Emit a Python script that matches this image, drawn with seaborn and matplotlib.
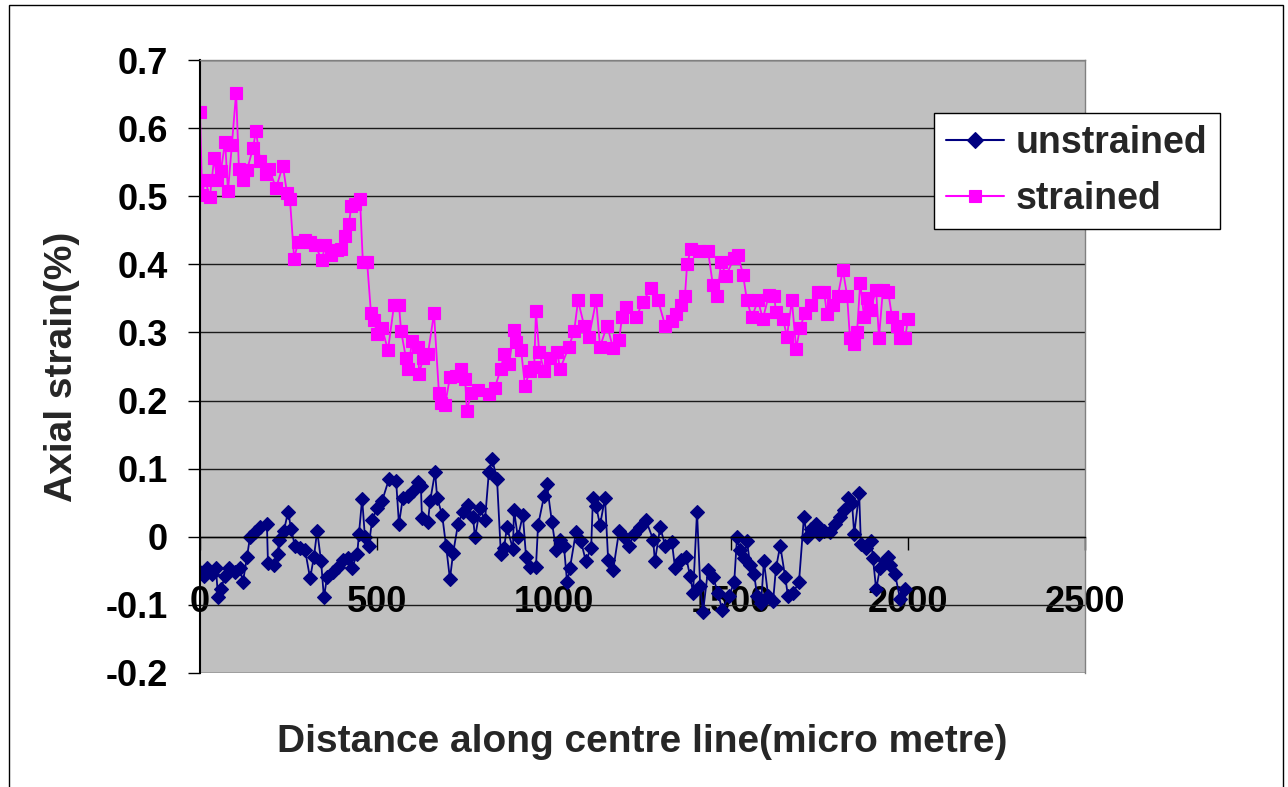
import matplotlib
matplotlib.use("Agg")
import matplotlib.pyplot as plt
import seaborn as sns
from matplotlib.patches import Rectangle

# Axial strain along the centre line, unstrained specimen
unstrained_x = [0, 11, 20, 34, 45, 51, 59, 71, 82, 99, 113, 121, 133, 141, 155, 170, 189, 192,
                209, 220, 223, 237, 249, 257, 268, 283, 297, 311, 322, 331, 342, 350, 359, 376,
                390, 404, 418, 429, 444, 449, 458, 466, 477, 486, 500, 514, 534, 554, 562, 573,
                588, 602, 616, 624, 627, 644, 650, 664, 670, 684, 695, 706, 715, 729, 743, 757,
                771, 777, 791, 805, 816, 825, 839, 850, 859, 867, 884, 887, 898, 912, 921, 932,
                949, 955, 972, 980, 994, 1006, 1017, 1028, 1037, 1045, 1062, 1076, 1090, 1105,
                1110, 1119, 1130, 1144, 1153, 1167, 1184, 1198, 1212, 1226, 1243, 1260, 1280,
                1285, 1300, 1314, 1333, 1342, 1359, 1373, 1384, 1393, 1404, 1413, 1421, 1435,
                1449, 1463, 1475, 1494, 1509, 1517, 1526, 1537, 1545, 1554, 1565, 1574, 1585,
                1593, 1605, 1619, 1627, 1639, 1653, 1661, 1675, 1692, 1706, 1715, 1726, 1740,
                1749, 1763, 1780, 1794, 1808, 1819, 1831, 1842, 1848, 1862, 1867, 1881, 1896,
                1901, 1910, 1921, 1935, 1944, 1949, 1963, 1978, 1992]
unstrained_y = [-0.052, -0.057, -0.046, -0.054, -0.046, -0.089, -0.077, -0.057, -0.046, -0.052,
                -0.046, -0.067, -0.029, -0.001, 0.007, 0.014, 0.019, -0.039, -0.041, -0.026,
                -0.004, 0.009, 0.037, 0.012, -0.013, -0.016, -0.020, -0.061, -0.029, 0.009,
                -0.036, -0.089, -0.059, -0.052, -0.044, -0.034, -0.031, -0.046, -0.026, 0.004,
                0.056, -0.001, -0.013, 0.024, 0.042, 0.052, 0.085, 0.082, 0.019, 0.057, 0.060,
                0.067, 0.080, 0.075, 0.027, 0.022, 0.052, 0.095, 0.057, 0.032, -0.013, -0.062,
                -0.024, 0.019, 0.037, 0.047, 0.029, -0.001, 0.042, 0.024, 0.095, 0.114, 0.085,
                -0.026, -0.016, 0.014, -0.018, 0.039, -0.001, 0.032, -0.029, -0.044, -0.044,
                0.017, 0.060, 0.077, 0.022, -0.020, -0.004, -0.013, -0.067, -0.046, 0.007,
                -0.006, -0.036, -0.016, 0.057, 0.045, 0.017, 0.057, -0.034, -0.049, 0.009,
                -0.001, -0.013, 0.004, 0.014, 0.024, -0.004, -0.036, 0.014, -0.013, -0.008,
                -0.046, -0.034, -0.029, -0.057, -0.082, 0.037, -0.072, -0.110, -0.049, -0.059,
                -0.082, -0.107, -0.087, -0.067, -0.001, -0.020, -0.031, -0.006, -0.041, -0.054,
                -0.087, -0.097, -0.036, -0.087, -0.094, -0.046, -0.013, -0.059, -0.087, -0.082,
                -0.067, 0.029, -0.001, 0.012, 0.019, 0.004, 0.009, 0.007, 0.019, 0.029, 0.039,
                0.057, 0.049, 0.004, 0.064, -0.011, -0.016, -0.006, -0.031, -0.077, -0.046,
                -0.036, -0.029, -0.041, -0.054, -0.092, -0.077]

# Axial strain along the centre line, strained specimen
strained_x = [0, 6, 14, 28, 40, 48, 59, 71, 79, 90, 102, 110, 121, 133, 150, 158, 170, 186, 195,
              215, 234, 246, 254, 266, 277, 297, 311, 325, 345, 353, 370, 387, 398, 410, 421,
              427, 438, 452, 460, 472, 483, 492, 500, 514, 531, 548, 562, 568, 582, 588, 599,
              616, 619, 630, 644, 661, 675, 681, 692, 706, 723, 737, 749, 754, 766, 785, 816,
              833, 850, 859, 873, 887, 893, 907, 918, 932, 944, 949, 958, 972, 989, 1009, 1017,
              1042, 1057, 1068, 1085, 1099, 1119, 1130, 1150, 1167, 1184, 1192, 1203, 1232,
              1251, 1274, 1294, 1314, 1333, 1345, 1359, 1370, 1376, 1387, 1410, 1435, 1449,
              1461, 1472, 1486, 1509, 1520, 1534, 1545, 1559, 1576, 1590, 1607, 1622, 1627,
              1647, 1658, 1672, 1684, 1695, 1709, 1726, 1746, 1763, 1771, 1788, 1802, 1816,
              1828, 1836, 1848, 1856, 1865, 1876, 1884, 1893, 1910, 1918, 1929, 1944, 1955,
              1969, 1978, 1992, 2000]
strained_y = [0.624, 0.502, 0.524, 0.499, 0.556, 0.524, 0.537, 0.580, 0.507, 0.575, 0.652,
              0.540, 0.524, 0.539, 0.571, 0.596, 0.552, 0.532, 0.540, 0.512, 0.545, 0.504,
              0.496, 0.408, 0.433, 0.436, 0.433, 0.428, 0.406, 0.429, 0.413, 0.421, 0.423,
              0.442, 0.459, 0.486, 0.489, 0.496, 0.404, 0.404, 0.328, 0.318, 0.297, 0.307,
              0.274, 0.340, 0.341, 0.302, 0.262, 0.246, 0.287, 0.279, 0.239, 0.262, 0.269,
              0.328, 0.211, 0.197, 0.193, 0.234, 0.236, 0.247, 0.231, 0.185, 0.211, 0.216,
              0.209, 0.219, 0.247, 0.269, 0.254, 0.304, 0.286, 0.274, 0.222, 0.244, 0.249,
              0.331, 0.272, 0.244, 0.262, 0.272, 0.246, 0.279, 0.302, 0.347, 0.310, 0.294,
              0.347, 0.279, 0.310, 0.277, 0.289, 0.322, 0.337, 0.322, 0.345, 0.365, 0.347,
              0.310, 0.317, 0.327, 0.340, 0.354, 0.400, 0.423, 0.420, 0.420, 0.369, 0.354,
              0.403, 0.383, 0.410, 0.413, 0.385, 0.347, 0.322, 0.347, 0.320, 0.355, 0.354,
              0.330, 0.320, 0.294, 0.347, 0.276, 0.307, 0.328, 0.340, 0.359, 0.360, 0.327,
              0.340, 0.354, 0.392, 0.354, 0.292, 0.283, 0.300, 0.373, 0.322, 0.350, 0.333,
              0.362, 0.292, 0.362, 0.360, 0.322, 0.310, 0.292, 0.292, 0.320]

x_ticks = [0, 500, 1000, 1500, 2000, 2500]
x_tick_labels = ["0", "500", "1000", "1500", "2000", "2500"]
y_ticks = [0.7, 0.6, 0.5, 0.4, 0.3, 0.2, 0.1, 0.0, -0.1, -0.2]
y_tick_labels = ["0.7", "0.6", "0.5", "0.4", "0.3", "0.2", "0.1", "0", "-0.1", "-0.2"]

sns.set_style("white")
plt.rcParams['font.family'] = ['Liberation Sans', 'DejaVu Sans']
plt.rcParams['font.weight'] = 'bold'
plt.rcParams['axes.unicode_minus'] = False

W, H = 1288, 787
fig = plt.figure(figsize=(W / 100, H / 100), dpi=100)
fig.patch.set_facecolor('white')
ax = fig.add_axes([200 / W, 1 - 673 / H, 885 / W, 613 / H])
ax.set_facecolor('#C0C0C0')

navy = '#000080'
magenta = '#FF00FF'

sns.lineplot(x=unstrained_x, y=unstrained_y, ax=ax, color=navy, linewidth=1.3,
             marker='D', markersize=7.5, markeredgecolor=navy, markerfacecolor=navy,
             markeredgewidth=0.8, sort=False, estimator=None, label='unstrained')
sns.lineplot(x=strained_x, y=strained_y, ax=ax, color=magenta, linewidth=1.3,
             marker='s', markersize=8, markeredgecolor=magenta, markerfacecolor=magenta,
             markeredgewidth=0.8, sort=False, estimator=None, label='strained')

ax.set_xlim(0, 2500)
ax.set_ylim(-0.2, 0.7)
ax.set_xticks(x_ticks)
ax.set_xticklabels(x_tick_labels)
ax.set_yticks(y_ticks)
ax.set_yticklabels(y_tick_labels)

ax.set_axisbelow(True)
ax.yaxis.grid(True, color='#1a1a1a', linewidth=1)
ax.xaxis.grid(False)

ax.spines['bottom'].set_position(('data', 0))
ax.spines['bottom'].set_color('black')
ax.spines['bottom'].set_linewidth(1)
ax.spines['left'].set_color('black')
ax.spines['left'].set_linewidth(1.5)
for side in ('top', 'right'):
    ax.spines[side].set_color('#808080')
    ax.spines[side].set_linewidth(1)

ax.tick_params(axis='y', direction='out', length=9, width=1, pad=14,
               labelsize=26, colors='black', left=True)
ax.tick_params(axis='x', direction='out', length=9, width=1, pad=26,
               labelsize=26, colors='black', bottom=True)

ax.set_xlabel('Distance along centre line(micro metre)', fontsize=28,
              fontweight='bold', va='center')
ax.xaxis.set_label_coords(0.5, (673 - 742) / 613)
ax.set_ylabel('Axial strain(%)', fontsize=28, fontweight='bold', va='center')
ax.yaxis.set_label_coords((62 - 200) / 885, 0.5)

leg = ax.legend(loc='upper left', bbox_to_anchor=(934 / W, 1 - 113 / H),
                bbox_transform=fig.transFigure, frameon=True, fancybox=False,
                framealpha=1, edgecolor='black', borderaxespad=0, borderpad=0.32,
                handlelength=1.55, handletextpad=0.32, labelspacing=0.53,
                prop={'size': 27, 'weight': 'bold'})
leg.get_frame().set_linewidth(1)
for line in leg.get_lines():
    line.set_linewidth(1.5)
    line.set_markersize(8)

# thin frame around the whole chart area
fig.patches.append(Rectangle((8.5 / W, -0.05), (1283 - 8.5) / W, 1.05 - 4.5 / H,
                             transform=fig.transFigure, fill=False,
                             edgecolor='black', linewidth=1))

fig.savefig('out.png', dpi=100)
